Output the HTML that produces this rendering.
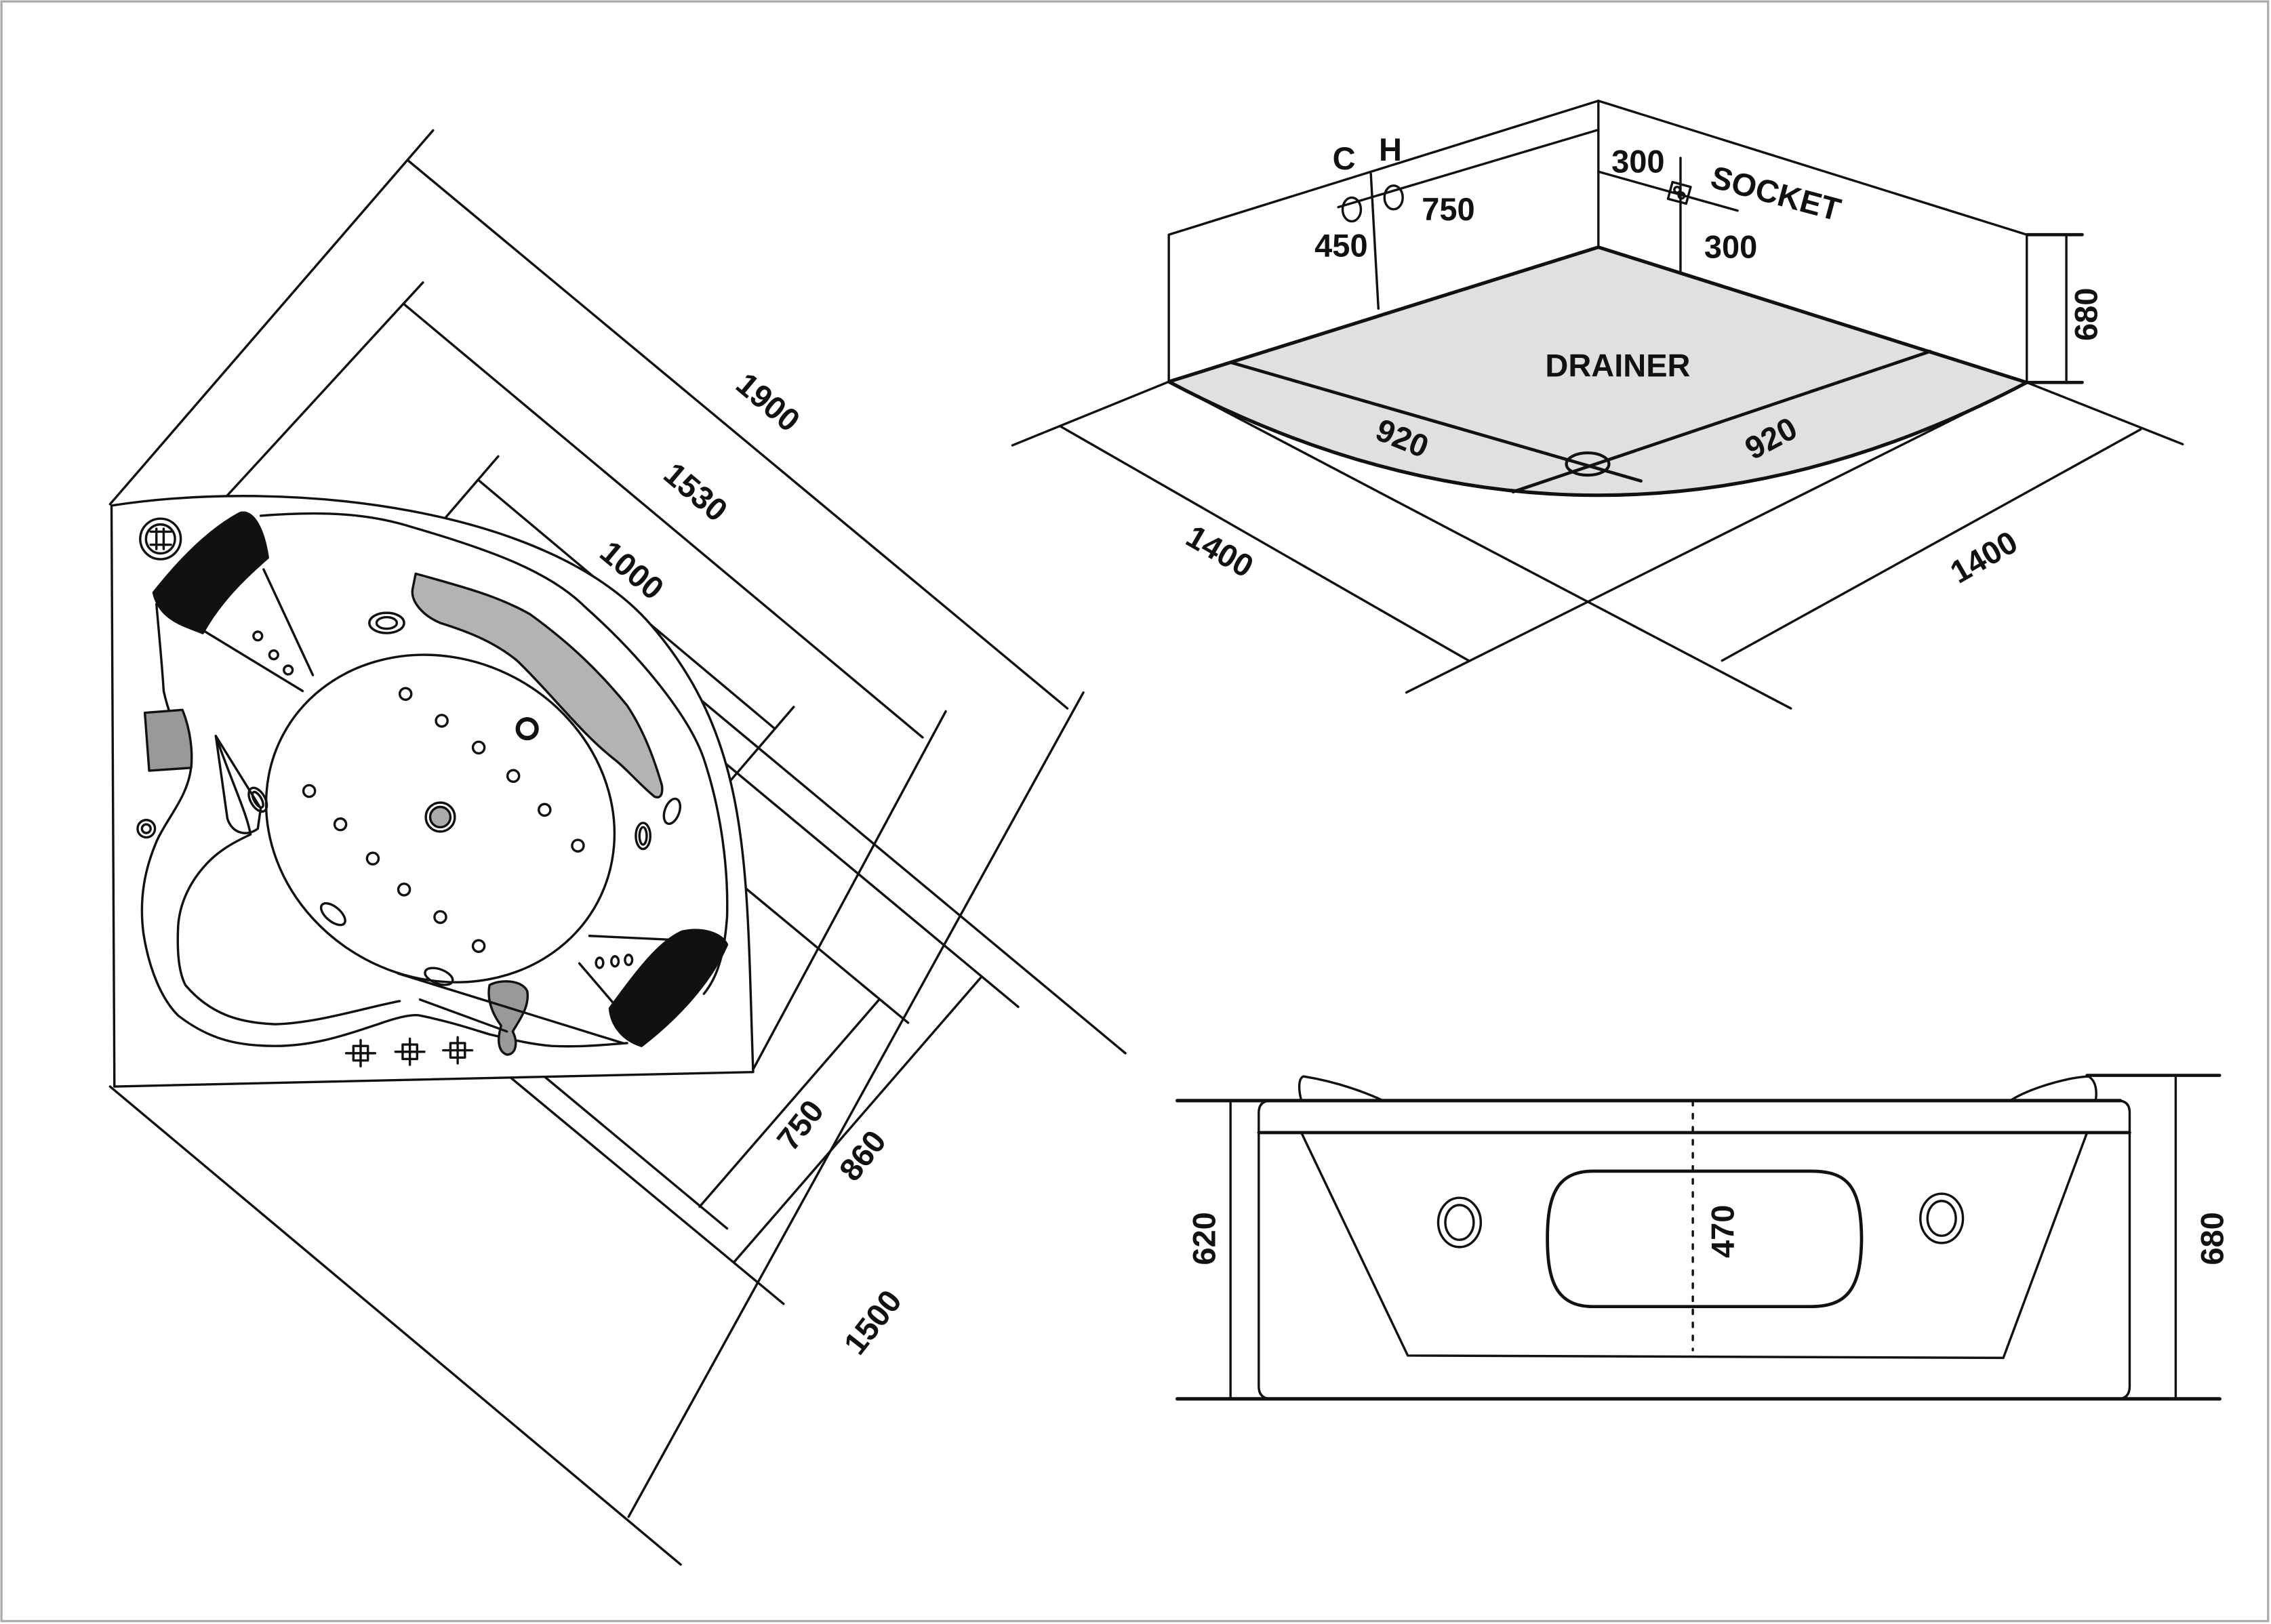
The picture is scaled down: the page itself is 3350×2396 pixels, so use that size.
<!DOCTYPE html>
<html><head><meta charset="utf-8"><style>
html,body{margin:0;padding:0;background:#fff;}
svg{display:block;}
text{font-family:"Liberation Sans",Arial,sans-serif;font-weight:bold;fill:#111;}
</style></head><body>
<svg width="3350" height="2396" viewBox="0 0 1568 1121" preserveAspectRatio="none" xmlns="http://www.w3.org/2000/svg">
<rect x="0" y="0" width="1568" height="1121" fill="#fff"/>
<rect x="1" y="1" width="1565" height="1118" fill="none" stroke="#aaa" stroke-width="1.5"/>
<g fill="none" stroke="#111" stroke-width="1.6" stroke-linecap="round" stroke-linejoin="round">
<!-- LEFT DIMENSION LINES -->
<line x1="76" y1="348" x2="299" y2="90"/>
<line x1="282" y1="111" x2="737" y2="489"/>
<line x1="748" y1="478" x2="434" y2="1047"/>
<line x1="76" y1="750" x2="470" y2="1080"/>
<line x1="279" y1="210" x2="637" y2="509"/>
<line x1="292" y1="195" x2="145" y2="355"/>
<line x1="331" y1="332" x2="535" y2="503"/>
<line x1="344" y1="315" x2="196" y2="487"/>
<line x1="548" y1="488" x2="414" y2="644"/>
<line x1="653" y1="491" x2="519" y2="740"/>
<line x1="607" y1="690" x2="483" y2="833"/>
<line x1="677" y1="675" x2="507" y2="871"/>
<line x1="777" y1="727" x2="420" y2="430"/>
<line x1="703" y1="695" x2="430" y2="468"/>
<line x1="627" y1="706" x2="470" y2="576"/>
<line x1="541" y1="900" x2="290" y2="692"/>
<line x1="502" y1="848" x2="300" y2="680"/>
<!-- TUB -->
<path d="M77,349 C200,330 380,350 450,432 S515,600 520,740 L79,750 Z" fill="#fff"/>
<path d="M180,356 C230,352 260,356 285,364 C340,380 380,395 404,419 C450,460 478,500 486,524 C498,560 503,600 502,633 C500,660 495,675 486,686"/>
<path d="M108,417 C110,440 112,460 113,477 C118,500 128,515 132,529 C130,550 115,565 108,581 C100,600 96,620 99,644 C103,670 112,690 123,701 C145,718 165,722 190,722 C220,722 245,712 261,707 C275,702 285,700 290,701 C310,705 325,710 338,714 C355,718 368,721 381,722 C400,723 420,721 433,720"/>
<path d="M149,508 C160,540 170,560 173,576 C160,582 150,588 142,597 C130,610 124,625 123,639 C122,660 124,672 128,680 C145,700 165,706 190,707 C220,706 250,696 276,691"/>
<ellipse cx="304" cy="565" rx="123" ry="110" transform="rotate(28 304 565)" fill="#fff"/>
<path d="M287,396 C320,405 345,412 366,424 C395,445 415,465 433,487 C445,505 452,525 457,542 C458,550 455,551 452,550 C440,540 432,530 424,524 C400,505 380,478 357,456 C340,442 320,435 304,430 C292,425 283,415 285,406 Z" fill="#b3b3b5"/>
<path d="M106,409 C125,385 145,365 166,354 C175,352 182,365 185,385 C170,398 152,415 140,437 C128,432 110,428 106,409 Z" fill="#111"/>
<path d="M421,696 C440,670 455,650 471,643 C485,640 498,644 502,652 C490,680 465,705 443,722 C430,718 422,708 421,696 Z" fill="#111"/>
<path d="M100,492 L126,490 C132,505 133,520 132,530 L103,532 Z" fill="#999"/>
<path d="M338,680 C345,676 360,676 364,684 C366,695 358,705 354,712 C358,720 356,728 350,728 C344,726 343,718 346,708 C340,700 336,690 338,680 Z" fill="#999"/>
<path d="M149,508 L157,565 C160,575 170,578 178,572 L180,558 Z"/>
<line x1="140" y1="435" x2="209" y2="477"/>
<line x1="182" y1="393" x2="216" y2="466"/>
<line x1="407" y1="646" x2="471" y2="649"/>
<line x1="400" y1="665" x2="424" y2="693"/>
<line x1="275" y1="672" x2="430" y2="720"/>
<line x1="290" y1="690" x2="350" y2="712"/>
<circle cx="110.8" cy="372" r="14"/><circle cx="110.8" cy="372" r="10"/>
<line x1="104" y1="367" x2="118" y2="367"/><line x1="104" y1="376" x2="118" y2="376"/><line x1="108" y1="365" x2="108" y2="379"/><line x1="113" y1="365" x2="113" y2="379"/>
<g>
<circle cx="280" cy="479" r="4"/><circle cx="305" cy="497.5" r="4"/><circle cx="330.5" cy="516" r="4"/><circle cx="354.4" cy="535.6" r="4"/><circle cx="376" cy="559" r="4"/><circle cx="399" cy="583.7" r="4"/>
<circle cx="213.5" cy="546" r="4"/><circle cx="235" cy="569" r="4"/><circle cx="257.4" cy="592.6" r="4"/><circle cx="279" cy="614" r="4"/><circle cx="304" cy="633" r="4"/><circle cx="330.5" cy="653" r="4"/>
<circle cx="178" cy="439" r="3"/><circle cx="189" cy="452" r="3"/><circle cx="199" cy="462.5" r="3"/>
<ellipse cx="414" cy="664.6" rx="2.5" ry="3.5"/><ellipse cx="424.6" cy="663.6" rx="2.5" ry="3.5"/><ellipse cx="434" cy="662.6" rx="2.5" ry="3.5"/>
</g>
<circle cx="304" cy="564" r="10"/><circle cx="304" cy="564" r="7" fill="#aaa"/>
<circle cx="364" cy="503" r="6.5" stroke-width="3"/>
<ellipse cx="267" cy="430" rx="12" ry="7"/><ellipse cx="267" cy="430" rx="7" ry="4"/>
<circle cx="101" cy="572" r="6"/><circle cx="101" cy="572" r="3"/>
<ellipse cx="178" cy="552" rx="5" ry="9" transform="rotate(-30 178 552)"/><ellipse cx="178" cy="552" rx="2.5" ry="6" transform="rotate(-30 178 552)"/>
<ellipse cx="444" cy="577" rx="5" ry="9"/><ellipse cx="444" cy="577" rx="2.5" ry="6"/>
<ellipse cx="464" cy="560" rx="5" ry="9" transform="rotate(20 464 560)"/>
<ellipse cx="230" cy="631" rx="5" ry="10" transform="rotate(-50 230 631)"/>
<ellipse cx="303" cy="674" rx="10" ry="5" transform="rotate(20 303 674)"/>
<g>
<path d="M239,727 h20 M249,718 v18 M244,722 h10 v10 h-10 z"/>
<path d="M273,726 h20 M283,717 v18 M278,721 h10 v10 h-10 z"/>
<path d="M306,725 h20 M316,716 v18 M311,720 h10 v10 h-10 z"/>
</g>
<!-- TOP RIGHT 3D -->
<path d="M807,263.5 L1103.6,170.6 L1399.4,264 Q1103,420 807,263.5 Z" fill="#e0e0e0" stroke-width="2.4"/>
<polyline points="807,263.5 807,162 1103.6,69.6 1399.4,162 1399.4,264"/>
<line x1="1103.6" y1="69.6" x2="1103.6" y2="170.6"/>
<line x1="1103.6" y1="89.6" x2="924" y2="143"/>
<line x1="946.5" y1="120" x2="951.7" y2="213"/>
<ellipse cx="933.3" cy="144.6" rx="6.3" ry="8.2"/>
<ellipse cx="962.2" cy="136.3" rx="6.3" ry="8.2"/>
<line x1="1103.6" y1="118.5" x2="1199.7" y2="145.4"/>
<line x1="1160.3" y1="109" x2="1160.3" y2="187"/>
<rect x="1153" y="127" width="13" height="12" transform="rotate(15 1159 133)"/>
<circle cx="1158" cy="131" r="2"/><circle cx="1161" cy="135" r="2"/>
<line x1="1399.4" y1="162" x2="1437.7" y2="162" stroke-width="2.2"/>
<line x1="1399.4" y1="264" x2="1437.7" y2="264" stroke-width="2.2"/>
<line x1="1426.7" y1="162" x2="1426.7" y2="264"/>
<line x1="850.3" y1="250.3" x2="1133" y2="332" stroke-width="2.2"/>
<line x1="1332.6" y1="242.6" x2="1044.7" y2="339.5" stroke-width="2.2"/>
<ellipse cx="1096.2" cy="320.3" rx="14.7" ry="7.7" stroke-width="2"/>
<line x1="699" y1="307.4" x2="807" y2="263.5"/>
<line x1="732" y1="294.2" x2="1014" y2="456"/>
<line x1="807" y1="263.5" x2="1236.5" y2="489"/>
<line x1="1399.4" y1="264" x2="971" y2="478"/>
<line x1="1399.4" y1="264" x2="1507" y2="306.6"/>
<line x1="1478" y1="296.4" x2="1189" y2="456"/>
<!-- BOTTOM RIGHT SIDE VIEW -->
<line x1="812.8" y1="759.7" x2="1464" y2="759.7" stroke-width="2.4"/>
<line x1="812.8" y1="965.6" x2="1532.6" y2="965.6" stroke-width="2.4"/>
<line x1="849.6" y1="759.7" x2="849.6" y2="965.6"/>
<path d="M878,759.7 H1462 Q1470.4,759.7 1470.4,768 V957 Q1470.4,965.6 1462,965.6 H878 Q869.1,965.6 869.1,957 V768 Q869.1,759.7 878,759.7 Z"/>
<line x1="869.1" y1="781.8" x2="1470.4" y2="781.8" stroke-width="2.2"/>
<path d="M898.5,781.8 L972,935.7 L1383.2,937.3 L1441,781.8"/>
<path d="M898.5,759.7 C896,750 897,744 900,743 C925,747 945,755 954.8,759.7"/>
<path d="M1388,759.7 C1400,752 1425,744 1442,743 C1447,746 1448,752 1447,759.7"/>
<line x1="1441" y1="742.3" x2="1532.5" y2="742.3" stroke-width="2.2"/>
<line x1="1502.2" y1="742.3" x2="1502.2" y2="965.6"/>
<path d="M1100,808.4 H1250 C1275,808.4 1285,818 1285.3,855 C1285,890 1275,901.9 1250,901.9 H1100 C1075,901.9 1068.4,885 1068.4,855 C1068.4,825 1075,808.4 1100,808.4 Z" stroke-width="2.2"/>
<ellipse cx="1007.7" cy="843.8" rx="14.7" ry="17"/><ellipse cx="1007.7" cy="843.8" rx="9.8" ry="12"/>
<ellipse cx="1340.6" cy="841" rx="14.7" ry="17"/><ellipse cx="1340.6" cy="841" rx="9.8" ry="12"/>
<line x1="1168.8" y1="760" x2="1168.8" y2="932" stroke-dasharray="3,6"/>
</g>
<!-- LABELS -->
<g font-size="22">
<text x="530" y="285" text-anchor="middle" transform="rotate(40 530 278)">1900</text>
<text x="480" y="347" text-anchor="middle" transform="rotate(40 480 340)">1530</text>
<text x="436" y="401" text-anchor="middle" transform="rotate(40 436 394)">1000</text>
<text x="553" y="784" text-anchor="middle" transform="rotate(-52 553 777)">750</text>
<text x="596" y="805" text-anchor="middle" transform="rotate(-52 596 798)">860</text>
<text x="603" y="920" text-anchor="middle" transform="rotate(-52 603 913)">1500</text>
<text x="928" y="117" text-anchor="middle">C</text>
<text x="960" y="111" text-anchor="middle">H</text>
<text x="1000" y="152" text-anchor="middle">750</text>
<text x="926" y="177" text-anchor="middle">450</text>
<text x="1131" y="119" text-anchor="middle">300</text>
<text x="1226" y="141" text-anchor="middle" transform="rotate(15 1226 134)">SOCKET</text>
<text x="1195" y="178" text-anchor="middle">300</text>
<text x="1117" y="260" text-anchor="middle">DRAINER</text>
<text x="968" y="310" text-anchor="middle" transform="rotate(22 968 303)">920</text>
<text x="1223" y="310" text-anchor="middle" transform="rotate(-28 1223 303)">920</text>
<text x="842" y="388" text-anchor="middle" transform="rotate(30 842 381)">1400</text>
<text x="1370" y="392" text-anchor="middle" transform="rotate(-30 1370 385)">1400</text>
<text x="1441" y="224" text-anchor="middle" transform="rotate(-90 1441 217)">680</text>
<text x="832" y="862" text-anchor="middle" transform="rotate(-90 832 855)">620</text>
<text x="1190" y="857" text-anchor="middle" transform="rotate(-90 1190 850)">470</text>
<text x="1528" y="862" text-anchor="middle" transform="rotate(-90 1528 855)">680</text>
</g>
</svg>
</body></html>
